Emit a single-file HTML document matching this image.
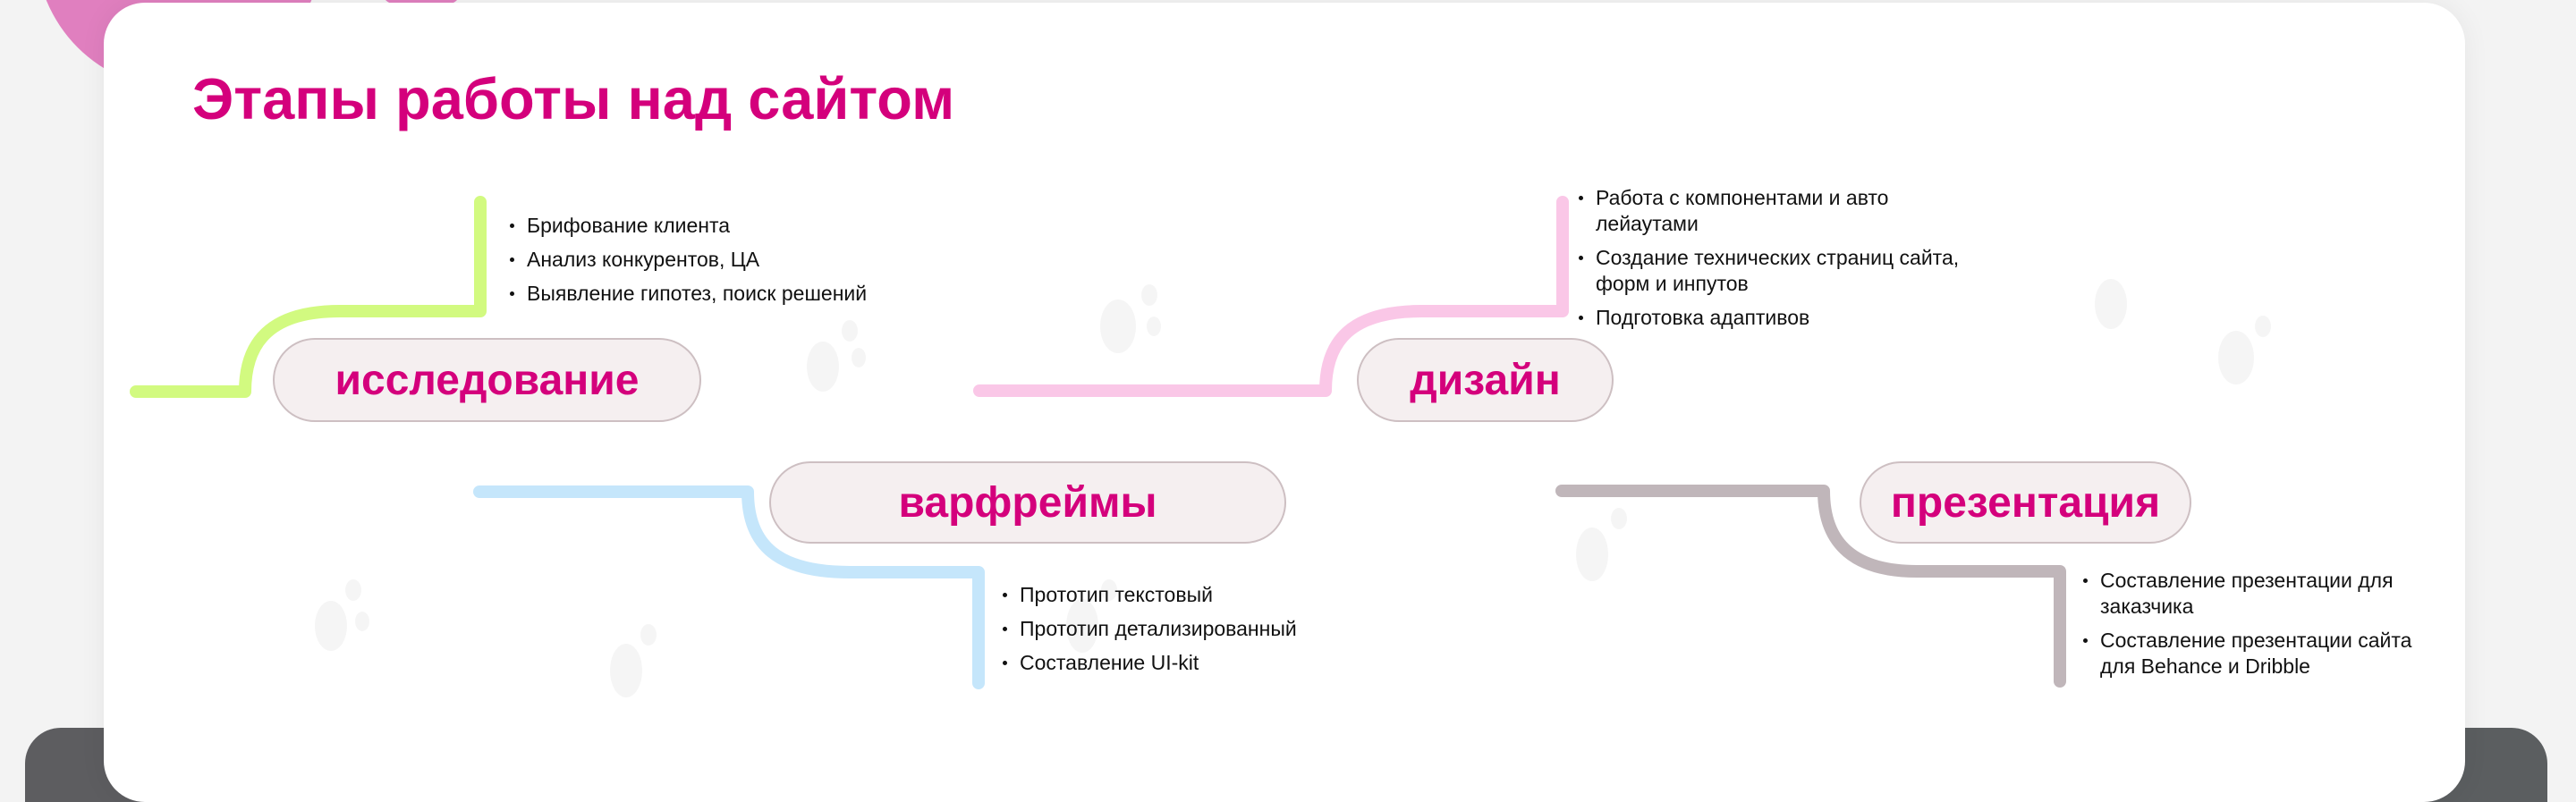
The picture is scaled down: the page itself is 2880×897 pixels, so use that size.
<!DOCTYPE html>
<html><head><meta charset="utf-8">
<style>
html,body{margin:0;padding:0;width:2880px;height:897px;overflow:hidden;}
body{background:#f3f3f3;font-family:"Liberation Sans","Noto Sans CJK SC",sans-serif;}
#wrap{position:relative;width:2880px;height:897px;overflow:hidden;}
.abs{position:absolute;}
.card{left:116px;top:3px;width:2640px;height:894px;background:#fff;border-radius:46px;box-shadow:0 0 30px rgba(0,0,0,0.06);}
.title{left:215px;top:78px;font-size:65px;font-weight:bold;color:#d4007c;white-space:nowrap;line-height:1;}
.pill{background:#f5eff0;border:2px solid #cdbfc2;border-radius:50px;box-sizing:border-box;display:flex;align-items:center;justify-content:center;color:#d4007c;font-weight:bold;font-size:48px;}
ul{position:absolute;margin:0;padding:0;list-style:none;font-size:23px;color:#111;line-height:29px;}
li{position:relative;padding-left:19px;margin-bottom:9px;white-space:nowrap;}
li:before{content:"";position:absolute;left:0;top:12px;width:5px;height:5px;border-radius:50%;background:#111;}
</style></head><body><div id="wrap">
<div class="abs" style="left:40px;top:-220px;width:320px;height:320px;border-radius:50%;background:#e07fbf;"></div>
<div class="abs" style="left:428px;top:-20px;width:86px;height:24px;border-radius:12px;background:#e07fbf;"></div>
<div class="abs" style="left:28px;top:814px;width:200px;height:83px;border-radius:40px 40px 0 0;background:#5d5d60;"></div>
<div class="abs" style="left:2650px;top:814px;width:198px;height:83px;border-radius:40px 40px 0 0;background:#5b5e60;"></div>
<div class="abs card"></div>
<div class="abs title">Этапы работы над сайтом</div>

<svg class="abs" style="left:0;top:0" width="2880" height="897">
<g fill="#efefef" opacity="0.6">
<ellipse cx="920" cy="410" rx="18" ry="28"/><ellipse cx="950" cy="370" rx="9" ry="12"/><ellipse cx="960" cy="400" rx="8" ry="11"/>
<ellipse cx="1250" cy="365" rx="20" ry="30"/><ellipse cx="1285" cy="330" rx="9" ry="12"/><ellipse cx="1290" cy="365" rx="8" ry="11"/>
<ellipse cx="370" cy="700" rx="18" ry="28"/><ellipse cx="395" cy="660" rx="9" ry="12"/><ellipse cx="405" cy="695" rx="8" ry="11"/>
<ellipse cx="700" cy="750" rx="18" ry="30"/><ellipse cx="725" cy="710" rx="9" ry="12"/>
<ellipse cx="1210" cy="700" rx="18" ry="30"/><ellipse cx="1240" cy="660" rx="9" ry="12"/>
<ellipse cx="1780" cy="620" rx="18" ry="30"/><ellipse cx="1810" cy="580" rx="9" ry="12"/>
<ellipse cx="2500" cy="400" rx="20" ry="30"/><ellipse cx="2530" cy="365" rx="9" ry="12"/>
<ellipse cx="2360" cy="340" rx="18" ry="28"/>
</g>
<g fill="none" stroke-width="14" stroke-linecap="round" stroke-linejoin="round">
<path d="M152,438 H274 C274,380 305,348 380,348 H537 V226" stroke="#d2fa80"/>
<path d="M1095,437 H1482 C1482,380 1512,348 1590,348 H1747 V226" stroke="#fac7e7"/>
<path d="M536,550 H836 C836,610 870,640 950,640 H1094 V764" stroke="#c5e6fb"/>
<path d="M1746,549 H2039 C2039,610 2075,639 2143,639 H2303 V762" stroke="#c0b6ba"/>
</g>
</svg>

<div class="abs pill" style="left:305px;top:378px;width:479px;height:94px;">исследование</div>
<div class="abs pill" style="left:1517px;top:378px;width:287px;height:94px;">дизайн</div>
<div class="abs pill" style="left:860px;top:516px;width:578px;height:92px;">варфреймы</div>
<div class="abs pill" style="left:2079px;top:516px;width:371px;height:92px;">презентация</div>

<ul style="left:570px;top:238px;">
<li>Брифование клиента</li><li>Анализ конкурентов, ЦА</li><li>Выявление гипотез, поиск решений</li></ul>
<ul style="left:1765px;top:207px;">
<li>Работа с компонентами и авто<br>лейаутами</li><li>Создание технических страниц сайта,<br>форм и инпутов</li><li>Подготовка адаптивов</li></ul>
<ul style="left:1121px;top:651px;">
<li>Прототип текстовый</li><li>Прототип детализированный</li><li>Составление UI-kit</li></ul>
<ul style="left:2329px;top:635px;">
<li>Составление презентации для<br>заказчика</li><li>Составление презентации сайта<br>для Behance и Dribble</li></ul>
</div></body></html>
